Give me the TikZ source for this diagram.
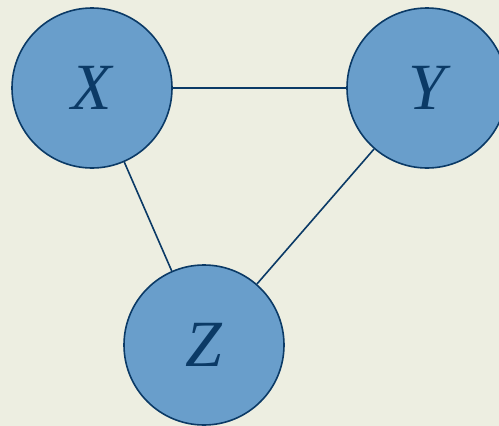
\documentclass[tikz,border=0pt]{standalone}
\usepackage{fontspec}
\newfontfamily\tnri{Liberation Serif Italic}
\definecolor{bgc}{HTML}{EDEEE1}
\definecolor{fillc}{HTML}{699ECB}
\definecolor{navy}{HTML}{0B3A66}
\begin{document}
\begin{tikzpicture}[x=1pt,y=-1pt,
  var/.style={circle,draw=navy,fill=fillc,line width=1.6pt,minimum size=160pt,inner sep=0pt,text=navy,font=\fontsize{66}{72}\tnri},
  edge/.style={draw=navy,line width=1.6pt}]
\fill[bgc] (0,0) rectangle (499,426);
\useasboundingbox (0,0) rectangle (499,426);
\node[var] (X) at (92,88) {X};
\node[var] (Y) at (427,88) {Y};
\node[var] (Z) at (204,345) {Z};
\draw[edge] (X) -- (Y);
\draw[edge] (X) -- (Z);
\draw[edge] (Y) -- (Z);
\end{tikzpicture}
\end{document}
